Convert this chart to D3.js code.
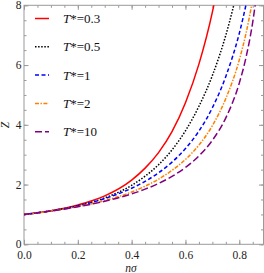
<!DOCTYPE html>
<html>
<head>
<meta charset="utf-8">
<script src="https://cdn.jsdelivr.net/npm/d3@7"></script>
<style>
  body { margin: 0; background: #fff; }
</style>
</head>
<body>
<svg id="chart" width="264" height="273"></svg>
<script>
// Z at these densities (n sigma)
const xRed    = [0, 0.1, 0.2, 0.3, 0.4, 0.45, 0.5, 0.55, 0.6, 0.65, 0.7, 0.75];
const zRed    = [1, 1.125, 1.32, 1.62, 2.15, 2.55, 3.07, 3.77, 4.74, 6.03, 7.77, 10.2];
const xBlack  = [0, 0.1, 0.2, 0.3, 0.4, 0.45, 0.5, 0.55, 0.6, 0.65, 0.7, 0.75, 0.8];
const zBlack  = [1, 1.119, 1.29, 1.553, 1.974, 2.28, 2.664, 3.16, 3.8, 4.62, 5.65, 7.0, 8.76];
const xBlue   = [0, 0.1, 0.2, 0.3, 0.4, 0.45, 0.5, 0.55, 0.6, 0.65, 0.7, 0.75, 0.8, 0.85];
const zBlue   = [1, 1.119, 1.287, 1.53, 1.878, 2.107, 2.393, 2.75, 3.206, 3.79, 4.57, 5.62, 7.06, 9.09];
const xOrange = [0, 0.1, 0.2, 0.3, 0.4, 0.45, 0.5, 0.55, 0.6, 0.65, 0.7, 0.75, 0.8, 0.825, 0.85];
const zOrange = [1, 1.113, 1.262, 1.462, 1.751, 1.944, 2.18, 2.475, 2.84, 3.32, 3.97, 4.88, 6.17, 7.06, 8.2];
const xPurple = [0, 0.1, 0.2, 0.3, 0.4, 0.45, 0.5, 0.55, 0.6, 0.65, 0.7, 0.75, 0.8, 0.825, 0.85, 0.87];
const zPurple = [1, 1.113, 1.256, 1.44, 1.687, 1.846, 2.037, 2.273, 2.571, 2.958, 3.482, 4.233, 5.396, 6.255, 7.44, 8.77];

const temps = ["0.3", "0.5", "1", "2", "10"];
const xTicks = [0, 0.2, 0.4, 0.6, 0.8];
const yTicks = [0, 2, 4, 6, 8];

const series = [
  { t: temps[0], x: xRed, z: zRed, color: "#ff0000", dash: null },
  { t: temps[1], x: xBlack, z: zBlack, color: "#000000", dash: "1.5,1.6" },
  { t: temps[2], x: xBlue, z: zBlue, color: "#0000ff", dash: "4,2.5" },
  { t: temps[3], x: xOrange, z: zOrange, color: "#ff8000", dash: "4,1.5,1.4,1.5" },
  { t: temps[4], x: xPurple, z: zPurple, color: "#800080", dash: "7,3" }
];

const serif = "'Liberation Serif', 'Times New Roman', 'DejaVu Serif', serif";
const margin = { left: 24, right: 0.5, top: 5.3, bottom: 28.7 };
const svg = d3.select("#chart");
const width = 264 - margin.left - margin.right;
const height = 273 - margin.top - margin.bottom;

const chart = svg.append("g")
  .attr("transform", "translate(" + margin.left + "," + margin.top + ")");

const xScale = d3.scaleLinear().domain([0, 0.89]).range([0, width]);
const yScale = d3.scaleLinear().domain([0, 8]).range([height, 0]);

chart.append("clipPath").attr("id", "clip")
  .append("rect").attr("width", width).attr("height", height);

const frameColor = "#9a9a9a";

// minor ticks on all four sides
const xMinor = d3.range(0, 0.89, 0.05);
const yMinor = d3.range(0, 8.01, 0.5);

function styleAxis(g) {
  g.attr("font-family", serif).attr("font-size", 11.5);
  g.select(".domain").remove();
  g.selectAll(".tick line").attr("stroke", frameColor);
  g.selectAll(".tick text").attr("fill", "#222");
}

chart.append("g").attr("transform", "translate(0," + height + ")")
  .call(d3.axisBottom(xScale).tickValues(xMinor).tickSize(-2.5).tickFormat(""))
  .call(styleAxis);
chart.append("g").attr("transform", "translate(0," + height + ")")
  .call(d3.axisBottom(xScale).tickValues(xTicks).tickSize(-4.5).tickPadding(7)
    .tickFormat(d3.format(".1f")))
  .call(styleAxis);
chart.append("g")
  .call(d3.axisTop(xScale).tickValues(xMinor).tickSize(-2.5).tickFormat(""))
  .call(styleAxis);
chart.append("g")
  .call(d3.axisTop(xScale).tickValues(xTicks).tickSize(-4.5).tickFormat(""))
  .call(styleAxis);

chart.append("g")
  .call(d3.axisLeft(yScale).tickValues(yMinor).tickSize(-2.5).tickFormat(""))
  .call(styleAxis);
chart.append("g")
  .call(d3.axisLeft(yScale).tickValues(yTicks).tickSize(-4.5).tickPadding(2.5)
    .tickFormat(d3.format("d")))
  .call(styleAxis);
chart.append("g").attr("transform", "translate(" + width + ",0)")
  .call(d3.axisRight(yScale).tickValues(yMinor).tickSize(-2.5).tickFormat(""))
  .call(styleAxis);
chart.append("g").attr("transform", "translate(" + width + ",0)")
  .call(d3.axisRight(yScale).tickValues(yTicks).tickSize(-4.5).tickFormat(""))
  .call(styleAxis);

chart.append("rect")
  .attr("width", width).attr("height", height)
  .attr("fill", "none").attr("stroke", frameColor).attr("stroke-width", 1);

const line = d3.line()
  .x(function (d) { return xScale(d[0]); })
  .y(function (d) { return yScale(d[1]); })
  .curve(d3.curveMonotoneX);

const curves = chart.append("g").attr("clip-path", "url(#clip)");
series.forEach(function (s) {
  curves.append("path")
    .datum(d3.zip(s.x, s.z))
    .attr("fill", "none")
    .attr("stroke", s.color)
    .attr("stroke-width", 1.5)
    .attr("stroke-dasharray", s.dash)
    .attr("d", line);
});

// legend
const legend = svg.append("g").attr("font-family", serif);
series.forEach(function (s, i) {
  const y = 18.5 + i * 28.3;
  legend.append("line")
    .attr("x1", 35).attr("x2", 49).attr("y1", y).attr("y2", y)
    .attr("stroke", s.color).attr("stroke-width", 1.5)
    .attr("stroke-dasharray", s.dash);
  const t = legend.append("text")
    .attr("x", 63).attr("y", y).attr("dy", "0.35em")
    .attr("font-size", 13).attr("fill", "#111");
  t.append("tspan").attr("font-style", "italic").text("T");
  t.append("tspan").text("*=" + s.t);
});

// axis labels
svg.append("text")
  .attr("x", 131).attr("y", 271.5)
  .attr("font-family", serif)
  .attr("text-anchor", "middle").attr("font-size", 11.5).attr("font-style", "italic")
  .attr("fill", "#222")
  .text("nσ");
svg.append("text")
  .attr("transform", "translate(8.5,125) rotate(-90)")
  .attr("font-family", serif)
  .attr("text-anchor", "middle").attr("font-size", 11.5).attr("font-style", "italic")
  .attr("fill", "#222")
  .text("Z");
</script>
</body>
</html>
